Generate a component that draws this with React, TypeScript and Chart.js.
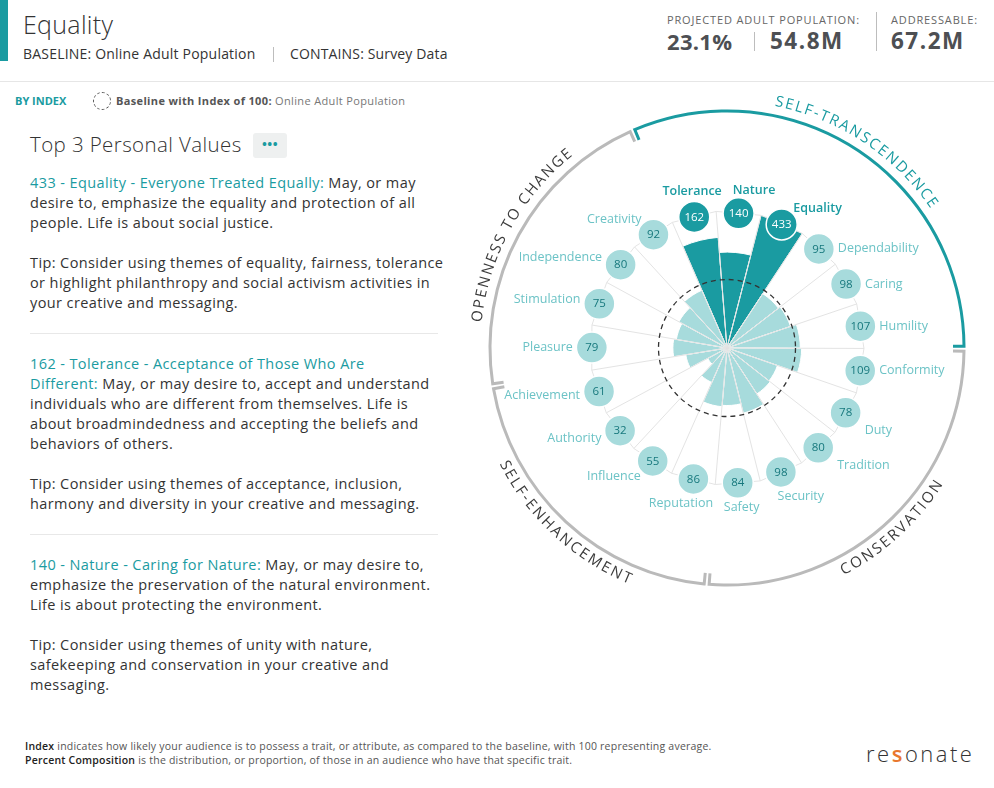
import React, { useEffect, useRef } from 'react';
import { Chart, registerables } from 'chart.js';

Chart.register(...registerables);

// ---------------- data ----------------
const categories = [
  'Tolerance', 'Nature', 'Equality', 'Dependability', 'Caring', 'Humility',
  'Conformity', 'Duty', 'Tradition', 'Security', 'Safety',
  'Reputation', 'Influence', 'Authority', 'Achievement',
  'Pleasure', 'Stimulation', 'Independence', 'Creativity',
];
const indexValues = [162, 140, 433, 95, 98, 107, 109, 78, 80, 98, 84, 86, 55, 32, 61, 79, 75, 80, 92];
const groupNames = ['SELF-TRANSCENDENCE', 'CONSERVATION', 'SELF-ENHANCEMENT', 'OPENNESS TO CHANGE'];
const groupSizes = [6, 5, 4, 4];
const BASELINE_INDEX = 100;
const SCALE_MAX = 200;
const START_ANGLE = -23.5;

const statLabels = ['PROJECTED ADULT POPULATION:', 'ADDRESSABLE:'];
const statValues = ['23.1%', '54.8M', '67.2M'];

// ---------------- style ----------------
const FONT = '"Open Sans", "Noto Sans", sans-serif';
const TEAL = '#1a9ba1';
const LIGHT = '#a7dbdc';
const LABEL_LIGHT = '#6cc3c6';
const BUBBLE_TEXT = '#17787d';
const DARK_TEXT = '#333333';

const top3 = indexValues
  .map((v, i) => ({ v, i }))
  .sort((a, b) => b.v - a.v)
  .slice(0, 3)
  .map((d) => d.i);
const maxIndex = top3[0];

const rad = (d: number) => (d * Math.PI) / 180;

const overlayPlugin = {
  id: 'overlay',
  afterDraw(chart: any) {
    const ctx = chart.ctx as CanvasRenderingContext2D;
    const s = chart.scales.r;
    const cx = s.xCenter;
    const cy = s.yCenter;
    const R = s.drawingArea;
    const n = categories.length;
    const step = 360 / n;
    const toXY = (deg: number, r: number) => [cx + r * Math.sin(rad(deg)), cy - r * Math.cos(rad(deg))];

    // baseline dashed circle
    const rb = s.getDistanceFromCenterForValue(BASELINE_INDEX);
    ctx.save();
    ctx.setLineDash([5, 4]);
    ctx.strokeStyle = '#333';
    ctx.lineWidth = 1.3;
    ctx.beginPath();
    ctx.arc(cx, cy, rb, 0, Math.PI * 2);
    ctx.stroke();
    ctx.restore();

    // bubbles + labels
    const bubbleR = R * Math.cos(Math.PI / n);
    categories.forEach((name, i) => {
      const p = s.getPointPosition(i + 0.5, bubbleR);
      const deg = (((START_ANGLE + (i + 0.5) * step) % 360) + 360) % 360;
      const hot = top3.includes(i);
      ctx.save();
      ctx.beginPath();
      ctx.arc(p.x, p.y, 15.5, 0, Math.PI * 2);
      ctx.fillStyle = hot ? TEAL : LIGHT;
      ctx.fill();
      ctx.lineWidth = 1.5;
      ctx.strokeStyle = '#ffffff';
      ctx.stroke();
      ctx.fillStyle = hot ? '#ffffff' : BUBBLE_TEXT;
      ctx.font = `500 11.5px ${FONT}`;
      ctx.textAlign = 'center';
      ctx.textBaseline = 'middle';
      ctx.fillText(String(indexValues[i]), p.x, p.y + 0.5);

      const a = rad(deg);
      const sn = Math.sin(a);
      const c = -Math.cos(a);
      let x: number, y: number;
      let align: CanvasTextAlign;
      if (c < -0.85) {
        align = 'center';
        x = p.x + 50 * sn + 10 + 14 * Math.max(0, sn);
        y = p.y - 25 + 22 * Math.max(0, sn);
      } else if (c > 0.85 && Math.abs(sn) < 0.45) {
        align = 'center'; x = p.x + 50 * sn; y = p.y + 25;
      } else if (sn > 0) {
        align = 'left'; x = p.x + 19; y = p.y + (c > 0.3 ? 18 : 0);
      } else {
        align = 'right';
        x = p.x - 19 + 30 * Math.max(0, Math.abs(c) - 0.6);
        y = p.y + 12 * c + 40 * Math.sign(c) * Math.max(0, Math.abs(c) - 0.7);
      }
      ctx.textAlign = align;
      ctx.fillStyle = hot ? TEAL : LABEL_LIGHT;
      ctx.font = `${hot ? 600 : 400} 12.5px ${FONT}`;
      ctx.fillText(name, x, y);
      ctx.restore();
    });

    // outer ring segments + curved group titles
    const ringR = R * 1.73;
    const textR = ringR + 14;
    let idx = 0;
    groupNames.forEach((g, gi) => {
      const first = idx;
      const last = idx + groupSizes[gi];
      idx = last;
      const a0 = START_ANGLE + first * step;
      const a1 = START_ANGLE + last * step;
      const highlight = maxIndex >= first && maxIndex < last;
      const color = highlight ? TEAL : '#bababa';
      const g0 = a0 + 0.6;
      const g1 = a1 - 0.6;
      ctx.save();
      ctx.strokeStyle = color;
      ctx.lineWidth = 3;
      ctx.lineJoin = 'miter';
      ctx.beginPath();
      const [x0, y0] = toXY(g0, ringR - 11);
      ctx.moveTo(x0, y0);
      ctx.arc(cx, cy, ringR, rad(g0 - 90), rad(g1 - 90));
      const [x1, y1] = toXY(g1, ringR - 11);
      ctx.lineTo(x1, y1);
      ctx.stroke();

      // curved text
      const mid = (a0 + a1) / 2;
      const cw = Math.cos(rad(mid)) > 0;
      ctx.font = `400 15px ${FONT}`;
      ctx.fillStyle = highlight ? TEAL : '#3c3c3c';
      ctx.textAlign = 'center';
      ctx.textBaseline = 'middle';
      const spacing = 2;
      const chars = g.split('');
      const widths = chars.map((ch) => ctx.measureText(ch).width);
      const total = widths.reduce((acc, w) => acc + w, 0) + spacing * (chars.length - 1);
      const span = (total / textR) * (180 / Math.PI);
      let cum = 0;
      chars.forEach((ch, k) => {
        const off = ((cum + widths[k] / 2) / textR) * (180 / Math.PI);
        cum += widths[k] + spacing;
        const ang = cw ? mid - span / 2 + off : mid + span / 2 - off;
        const [tx, ty] = toXY(ang, textR);
        ctx.save();
        ctx.translate(tx, ty);
        ctx.rotate(cw ? rad(ang) : rad(ang) + Math.PI);
        ctx.fillText(ch, 0, 0);
        ctx.restore();
      });
      ctx.restore();
    });
  },
};

function PolarChart() {
  const ref = useRef<HTMLCanvasElement>(null);
  useEffect(() => {
    if (!ref.current) return;
    const chart = new Chart(ref.current, {
      type: 'polarArea',
      data: {
        labels: categories,
        datasets: [
          {
            data: indexValues.map((v) => Math.min(v, SCALE_MAX)),
            backgroundColor: indexValues.map((_, i) => (top3.includes(i) ? TEAL : LIGHT)),
            borderColor: '#ffffff',
            borderWidth: 1,
          },
        ],
      },
      options: {
        responsive: false,
        animation: false,
        layout: { padding: { left: 150, top: 121, right: 130, bottom: 125 } },
        plugins: { legend: { display: false }, tooltip: { enabled: false } },
        scales: {
          r: {
            min: 0,
            max: SCALE_MAX,
            startAngle: START_ANGLE,
            ticks: { display: false, stepSize: 100 },
            grid: {
              circular: false,
              z: 1,
              color: (c: any) => (c.tick && c.tick.value === SCALE_MAX ? '#e4e4e4' : 'rgba(0,0,0,0)'),
            },
            angleLines: { display: true, color: 'rgba(225,225,225,0.95)', lineWidth: 1 },
            pointLabels: { display: false },
          },
        },
      } as any,
      plugins: [overlayPlugin],
    });
    return () => chart.destroy();
  }, []);
  return (
    <canvas
      ref={ref}
      width={554}
      height={520}
      style={{ position: 'absolute', left: 440, top: 90, width: 554, height: 520 }}
    />
  );
}

const T = ({ x, y, size, children, style }: any) => (
  <div
    style={{
      position: 'absolute',
      left: x,
      top: y - size * 0.7,
      fontSize: size,
      lineHeight: `${size * 1.4}px`,
      whiteSpace: 'nowrap',
      ...style,
    }}
  >
    {children}
  </div>
);

const Block = ({ top, children }: any) => (
  <div
    style={{
      position: 'absolute',
      left: 30,
      top,
      fontSize: 14.5,
      letterSpacing: 0.4,
      lineHeight: '20px',
      color: DARK_TEXT,
      whiteSpace: 'nowrap',
    }}
  >
    {children}
  </div>
);

const H = ({ children }: any) => <span style={{ color: TEAL }}>{children}</span>;

export default function App() {
  return (
    <div
      style={{
        position: 'absolute',
        left: 0,
        top: 0,
        width: 994,
        height: 788,
        background: '#ffffff',
        fontFamily: FONT,
        color: DARK_TEXT,
        overflow: 'hidden',
      }}
    >
      {/* header */}
      <div style={{ position: 'absolute', left: 0, top: 0, width: 8, height: 61, background: TEAL }} />
      <T x={23} y={24} size={25} style={{ fontWeight: 300, color: '#333', letterSpacing: 0.3 }}>Equality</T>
      <T x={23} y={54} size={14} style={{ color: '#333', letterSpacing: 0.2 }}>BASELINE: Online Adult Population</T>
      <div style={{ position: 'absolute', left: 273, top: 47, width: 1, height: 15, background: '#bdbdbd' }} />
      <T x={290} y={54} size={14} style={{ color: '#333', letterSpacing: 0.15 }}>CONTAINS: Survey Data</T>

      <T x={667} y={20} size={11} style={{ color: '#666', letterSpacing: 0.85 }}>{statLabels[0]}</T>
      <T x={667} y={41} size={22} style={{ color: '#4d4f53', fontWeight: 700, letterSpacing: 0.3 }}>{statValues[0]}</T>
      <div style={{ position: 'absolute', left: 754, top: 32, width: 1, height: 19, background: '#bdbdbd' }} />
      <T x={770} y={41} size={22.5} style={{ color: '#4d4f53', fontWeight: 700, letterSpacing: 1.5 }}>{statValues[1]}</T>
      <div style={{ position: 'absolute', left: 876, top: 12, width: 1, height: 39, background: '#bdbdbd' }} />
      <T x={891} y={20} size={11} style={{ color: '#666', letterSpacing: 0.85 }}>{statLabels[1]}</T>
      <T x={891} y={41} size={22.5} style={{ color: '#4d4f53', fontWeight: 700, letterSpacing: 1.5 }}>{statValues[2]}</T>

      <div style={{ position: 'absolute', left: 0, top: 81, width: 994, height: 1, background: '#e6e6e6' }} />

      {/* sub header */}
      <T x={15} y={101} size={11} style={{ color: TEAL, fontWeight: 700 }}>BY INDEX</T>
      <div
        style={{
          position: 'absolute', left: 93, top: 92, width: 16, height: 16,
          border: '1px dashed #555', borderRadius: '50%',
        }}
      />
      <T x={116} y={101} size={11} style={{ color: '#555', letterSpacing: 0.35 }}>
        <b>Baseline with Index of 100:</b> <span style={{ color: '#777' }}>Online Adult Population</span>
      </T>

      {/* left panel */}
      <T x={30} y={144} size={20.5} style={{ fontWeight: 300, color: '#333', letterSpacing: 0.4 }}>Top 3 Personal Values</T>
      <div
        style={{
          position: 'absolute', left: 253, top: 133, width: 34, height: 25, background: '#eef0f0',
          borderRadius: 3, color: TEAL, fontSize: 13, fontWeight: 700, lineHeight: '23px',
          textAlign: 'center', letterSpacing: 0.5,
        }}
      >
        •••
      </div>

      <Block top={173}>
        <H>433 - Equality - Everyone Treated Equally:</H> May, or may<br />
        desire to, emphasize the equality and protection of all<br />
        people. Life is about social justice.<br />
        <br />
        Tip: Consider using themes of equality, fairness, tolerance<br />
        or highlight philanthropy and social activism activities in<br />
        your creative and messaging.
      </Block>
      <div style={{ position: 'absolute', left: 30, top: 333, width: 408, height: 1, background: '#e8e8e8' }} />

      <Block top={354}>
        <H>162 - Tolerance - Acceptance of Those Who Are</H><br />
        <H>Different:</H> May, or may desire to, accept and understand<br />
        individuals who are different from themselves. Life is<br />
        about broadmindedness and accepting the beliefs and<br />
        behaviors of others.<br />
        <br />
        Tip: Consider using themes of acceptance, inclusion,<br />
        harmony and diversity in your creative and messaging.
      </Block>
      <div style={{ position: 'absolute', left: 30, top: 534, width: 408, height: 1, background: '#e8e8e8' }} />

      <Block top={555}>
        <H>140 - Nature - Caring for Nature:</H> May, or may desire to,<br />
        emphasize the preservation of the natural environment.<br />
        Life is about protecting the environment.<br />
        <br />
        Tip: Consider using themes of unity with nature,<br />
        safekeeping and conservation in your creative and<br />
        messaging.
      </Block>

      <PolarChart />

      {/* footer */}
      <T x={25} y={746} size={10.5} style={{ color: '#555', letterSpacing: 0.22 }}>
        <b style={{ color: '#222', fontWeight: 600 }}>Index</b> indicates how likely your audience is to possess a trait, or attribute, as compared to the baseline, with 100 representing average.
      </T>
      <T x={25} y={760} size={10.5} style={{ color: '#555', letterSpacing: 0.22 }}>
        <b style={{ color: '#222', fontWeight: 600 }}>Percent Composition</b> is the distribution, or proportion, of those in an audience who have that specific trait.
      </T>
      <T x={866} y={753} size={22} style={{ color: '#333', fontWeight: 300, letterSpacing: 2.5 }}>
        re<span style={{ color: '#e8772e', fontWeight: 600 }}>s</span>onate
      </T>
    </div>
  );
}
